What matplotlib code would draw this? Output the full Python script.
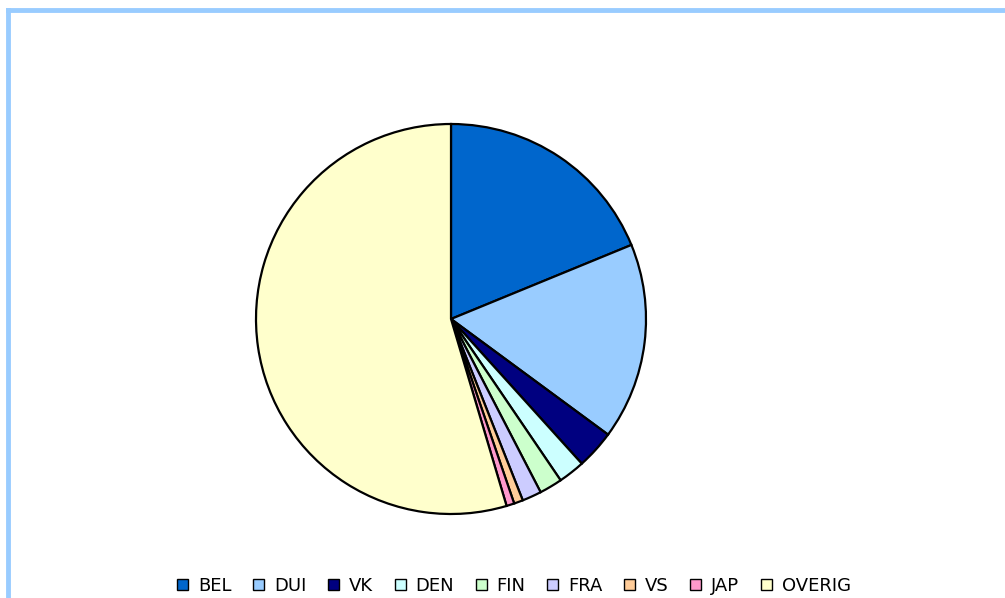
import matplotlib.pyplot as plt
from matplotlib.lines import Line2D
from matplotlib.patches import Patch

labels = ['BEL', 'DUI', 'VK', 'DEN', 'FIN', 'FRA', 'VS', 'JAP', 'OVERIG']
values = [18.8, 16.3, 3.2, 2.2, 1.9, 1.6, 0.75, 0.65, 54.6]
colors = ['#0066CC', '#99CCFF', '#000080', '#CCFFFF', '#CCFFCC',
          '#CCCCFF', '#FFCC99', '#FF99CC', '#FFFFCC']

W, H = 1005, 598
fig = plt.figure(figsize=(W / 100, H / 100), dpi=100)

# pie placed by pixel centre / radius
cx, cy, r = 451, 319, 195
ax = fig.add_axes([(cx - r) / W, (H - cy - r) / H, 2 * r / W, 2 * r / H])
ax.pie(values, colors=colors, startangle=90, counterclock=False, radius=1,
       wedgeprops=dict(edgecolor='black', linewidth=1.6))
ax.set_xlim(-1, 1)
ax.set_ylim(-1, 1)
ax.set_aspect('auto')
ax.axis('off')

# light blue frame (top and left edges visible)
fc = '#99CCFF'
fig.add_artist(Line2D([8 / W, 8 / W], [0, 1 - 10 / H], color=fc, lw=3.5,
                      solid_capstyle='projecting'))
fig.add_artist(Line2D([8 / W, 1], [1 - 10 / H, 1 - 10 / H], color=fc, lw=3.5,
                      solid_capstyle='projecting'))

handles = [Patch(facecolor=c, edgecolor='black', linewidth=1) for c in colors]
fig.legend(handles, labels, loc='center', bbox_to_anchor=(514 / W, 1 - 586 / H),
           ncol=9, frameon=False, fontsize=13, handlelength=0.6, handleheight=0.6,
           handletextpad=0.55, columnspacing=1.2, borderpad=0)

fig.savefig('out.png', dpi=100)
